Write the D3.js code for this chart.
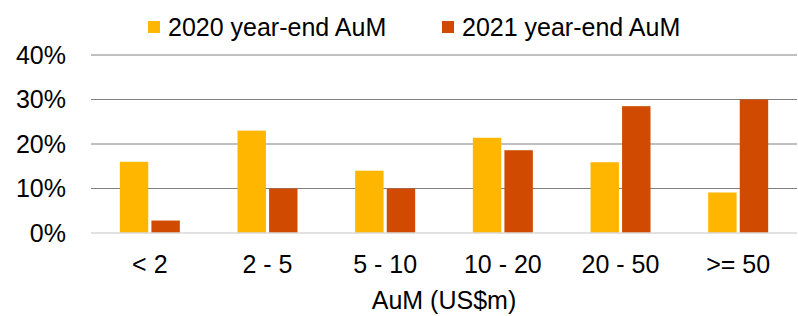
<!DOCTYPE html>
<html>
<head>
<meta charset="utf-8">
<script src="https://cdn.jsdelivr.net/npm/d3@7"></script>
<style>
  body { margin: 0; background: #fff; }
  text { font-family: "Liberation Sans", Arial, sans-serif; fill: #000; }
</style>
</head>
<body>
<script>
// Chart data
const categories = ["< 2", "2 - 5", "5 - 10", "10 - 20", "20 - 50", ">= 50"];
const seriesNames = ["2020 year-end AuM", "2021 year-end AuM"];
const values2020 = [16, 23, 14, 21.4, 15.9, 9.1];
const values2021 = [2.8, 10, 10, 18.6, 28.5, 30];
const yTicks = [0, 10, 20, 30, 40];
const colors = ["#FFB600", "#D04A02"];

const W = 798, H = 316;
const margin = { top: 55, right: 1, bottom: 83, left: 91 };
const width = W - margin.left - margin.right;
const height = H - margin.top - margin.bottom;
const fontSize = "25px";

const svg = d3.select("body").append("svg")
    .attr("width", W)
    .attr("height", H);

const g = svg.append("g")
    .attr("transform", `translate(${margin.left},${margin.top})`);

// Scales
const x = d3.scaleBand().domain(categories).range([0, width]).padding(0);
const y = d3.scaleLinear().domain([0, 40]).range([height, 0]);
const barW = 27, gap = 6;
const xs = d3.scaleBand().domain(seriesNames).range([0, barW * 2 + gap]).paddingInner(gap / (barW * 2 + gap));

// Gridlines
g.selectAll(".grid")
    .data(yTicks.filter(t => t > 0))
    .enter().append("line")
    .attr("x1", 0).attr("x2", width)
    .attr("y1", d => y(d)).attr("y2", d => y(d))
    .attr("stroke", "#808080")
    .attr("stroke-width", 1);

// Bars
const rows = categories.map((c, i) => ({ cat: c, vals: [values2020[i], values2021[i]] }));
const groups = g.selectAll(".grp")
    .data(rows)
    .enter().append("g")
    .attr("transform", d => `translate(${x(d.cat) + x.bandwidth() / 2 - (barW * 2 + gap) / 2},0)`);

groups.selectAll("rect")
    .data(d => d.vals.map((v, k) => ({ key: seriesNames[k], v: v, k: k })))
    .enter().append("rect")
    .attr("x", d => xs(d.key))
    .attr("width", xs.bandwidth())
    .attr("y", d => y(d.v))
    .attr("height", d => y(0) - y(d.v))
    .attr("fill", d => colors[d.k]);

// Baseline
g.append("line")
    .attr("x1", 0).attr("x2", width)
    .attr("y1", y(0)).attr("y2", y(0))
    .attr("stroke", "#D9D9D9")
    .attr("stroke-width", 1.5);

// Y labels
g.selectAll(".ylab")
    .data(yTicks)
    .enter().append("text")
    .attr("x", -25)
    .attr("y", d => y(d))
    .attr("dy", "0.35em")
    .attr("text-anchor", "end")
    .style("font-size", fontSize)
    .text(d => d + "%");

// X labels
g.selectAll(".xlab")
    .data(categories)
    .enter().append("text")
    .attr("x", d => x(d) + x.bandwidth() / 2)
    .attr("y", height + 40)
    .attr("text-anchor", "middle")
    .style("font-size", fontSize)
    .text(d => d);

// Axis title
g.append("text")
    .attr("x", width / 2)
    .attr("y", height + 76)
    .attr("text-anchor", "middle")
    .style("font-size", fontSize)
    .text("AuM (US$m)");

// Legend
const legendX = [148, 442];
seriesNames.forEach((s, i) => {
    svg.append("rect")
        .attr("x", legendX[i])
        .attr("y", 21)
        .attr("width", 12)
        .attr("height", 12)
        .attr("fill", colors[i]);
    svg.append("text")
        .attr("x", legendX[i] + 20)
        .attr("y", 36)
        .style("font-size", fontSize)
        .text(s);
});
</script>
</body>
</html>
